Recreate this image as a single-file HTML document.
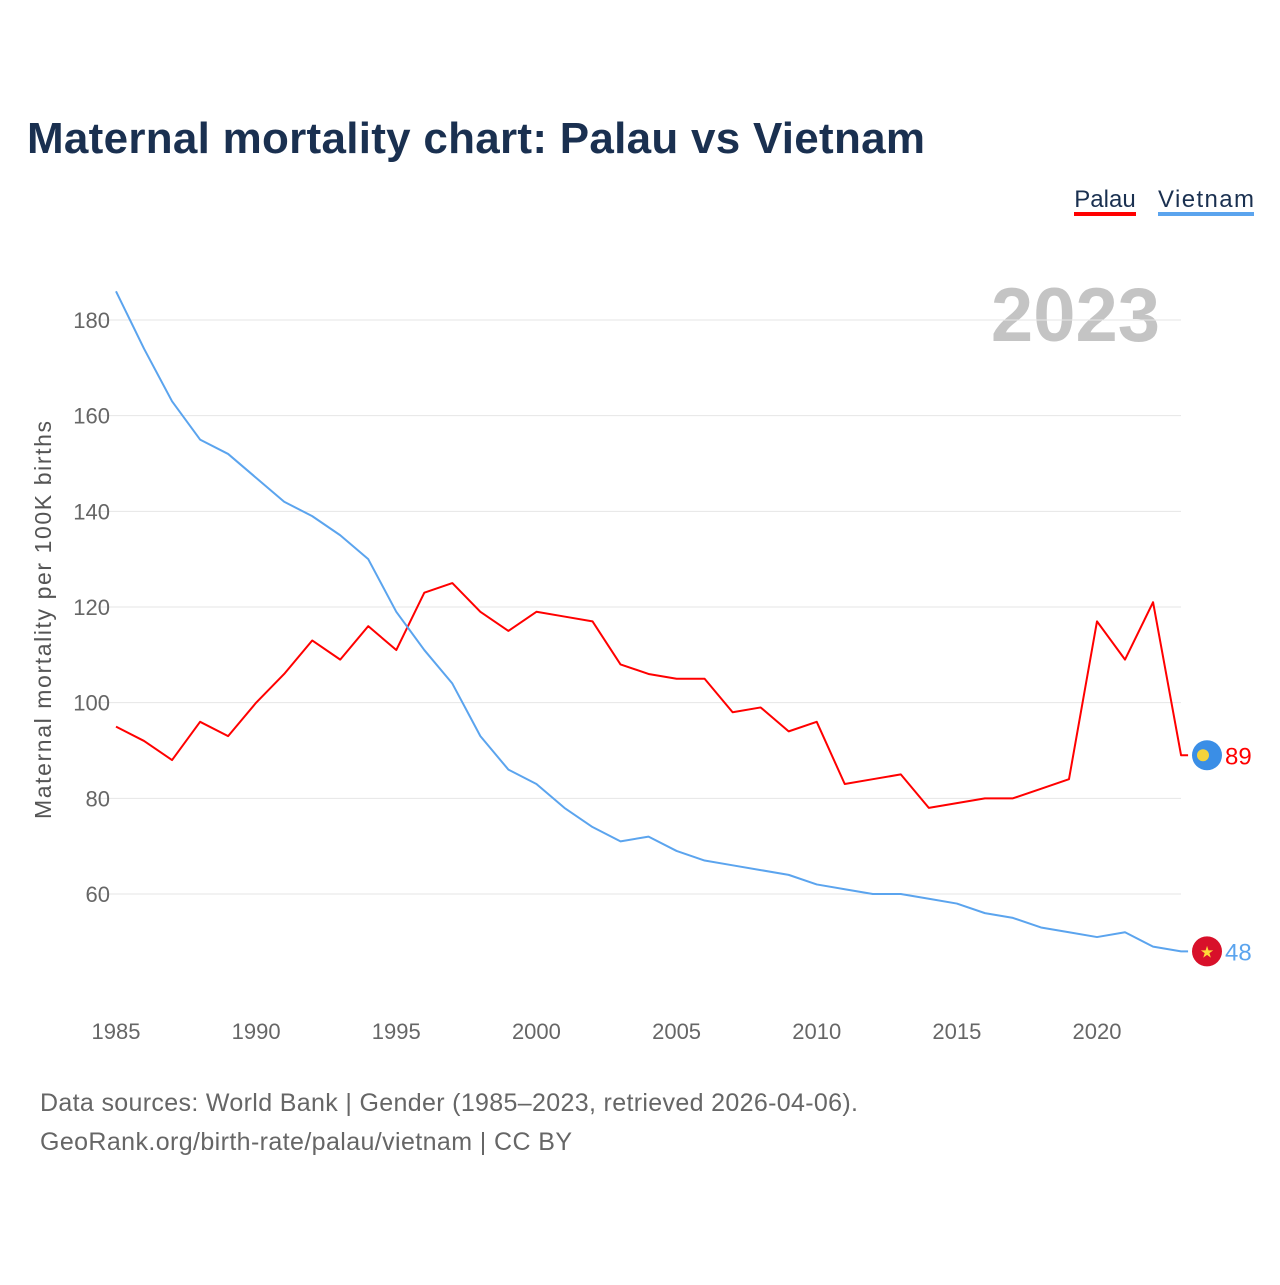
<!DOCTYPE html>
<html><head><meta charset="utf-8"><style>
body{margin:0;background:#fff;font-family:"Liberation Sans",sans-serif}
svg text{font-family:"Liberation Sans",sans-serif}
</style></head><body>
<svg width="1280" height="1280" xmlns="http://www.w3.org/2000/svg" id="chart">
<text x="27" y="153" font-size="44" font-weight="bold" fill="#1a3050" textLength="898">Maternal mortality chart: Palau vs Vietnam</text>
<g>
<text x="1105" y="207" font-size="24" fill="#1a3050" text-anchor="middle">Palau</text>
<rect x="1074" y="212" width="62" height="4" fill="#ff0000"/>
<text x="1158" y="207" font-size="24" fill="#1a3050" textLength="96">Vietnam</text>
<rect x="1158" y="212" width="96" height="4" fill="#5ba4ee"/>
</g>
<text x="1160" y="341" font-size="76" font-weight="bold" fill="#c4c4c4" text-anchor="end">2023</text>
<g id="grid"></g>
<g id="xt"></g>
<g id="lines"></g>
<text transform="translate(51,620) rotate(-90)" font-size="23" fill="#555" text-anchor="middle" textLength="398">Maternal mortality per 100K births</text>
<text x="40" y="1111" font-size="25" fill="#666" textLength="818">Data sources: World Bank | Gender (1985–2023, retrieved 2026-04-06).</text>
<text x="40" y="1150" font-size="25" fill="#666" textLength="532">GeoRank.org/birth-rate/palau/vietnam | CC BY</text>
</svg>
<script>
const years=[];for(let y=1985;y<=2023;y++)years.push(y);
const palau=[95,92,88,96,93,100,106,113,109,116,111,123,125,119,115,119,118,117,108,106,105,105,98,99,94,96,83,84,85,78,79,80,80,82,84,117,109,121,89];
const vietnam=[186,174,163,155,152,147,142,139,135,130,119,111,104,93,86,83,78,74,71,72,69,67,66,65,64,62,61,60,60,59,58,56,55,53,52,51,52,49,48];
const yTicks=[60,80,100,120,140,160,180];
const xTicks=[1985,1990,1995,2000,2005,2010,2015,2020];
const NS="http://www.w3.org/2000/svg";
const X=y=>116+(y-1985)*(1097-116)/35;
const Y=v=>320+(180-v)*(894-320)/120;
function mk(t,a,p){const e=document.createElementNS(NS,t);for(const k in a)e.setAttribute(k,a[k]);p.appendChild(e);return e;}
const grid=document.getElementById('grid'),xt=document.getElementById('xt'),lines=document.getElementById('lines');
yTicks.forEach(v=>{
const l=mk('line',{x1:98,x2:1181,y1:Y(v),y2:Y(v),stroke:'#e6e6e6','stroke-width':1},grid);


const t=mk('text',{x:110,y:Y(v)+8,'font-size':22,fill:'#666','text-anchor':'end'},grid);t.textContent=v;


});
xTicks.forEach(v=>{
const t=mk('text',{x:X(v),y:1039,'font-size':22,fill:'#666','text-anchor':'middle'},xt);t.textContent=v;


});
function series(vals,color,name){
const pts=vals.map((v,i)=>X(years[i])+','+Y(v));
const last=vals[vals.length-1];
pts.push((X(2023)+7)+','+Y(last));
const p=mk('polyline',{points:pts.join(' '),fill:'none',stroke:color,'stroke-width':2,'stroke-linejoin':'round'},lines);


const t=mk('text',{x:1225,y:Y(last)+9,'font-size':24,fill:color},lines);t.textContent=last;


return Y(last);
}
const yp=series(palau,'#ff0000','palau');
const yv=series(vietnam,'#5ba4ee','vietnam');
const f1=mk('circle',{cx:1207,cy:yp,r:15,fill:'#3a8ee6'},lines);


mk('circle',{cx:1203,cy:yp,r:6,fill:'#f5d33a'},lines);
const f2=mk('circle',{cx:1207,cy:yv,r:15,fill:'#d8102a'},lines);


const st=mk('text',{x:1207,y:yv+6,'font-size':16,fill:'#ffd83a','text-anchor':'middle'},lines);st.textContent='★';
</script>
</body></html>
